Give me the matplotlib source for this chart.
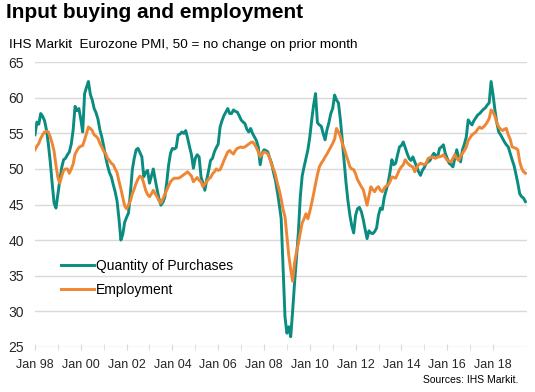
'''Input buying and employment: Eurozone PMI sub-indices, Jan 98 - mid 19'''
import numpy as np
from matplotlib import pyplot as plt

# monthly readings, Jan 1998 onwards (one row per year)
purchases = [
    54.8, 56.6, 56.3, 57.8, 57.4, 56.8, 55.5, 53.5, 51.0, 48.0, 45.2, 44.5,  # 98
    46.5, 48.4, 50.2, 51.3, 51.5, 52.0, 52.4, 53.5, 55.5, 58.8, 58.2, 58.5,  # 99
    57.0, 55.2, 60.6, 61.5, 62.3, 60.5, 59.7, 58.5, 57.9, 57.0, 55.5, 54.5,  # 00
    53.2, 51.7, 50.5, 49.5, 48.9, 47.8, 46.8, 45.5, 43.0, 40.0, 40.8, 42.5,  # 01
    43.2, 43.8, 46.6, 49.9, 51.5, 52.7, 52.9, 52.3, 51.7, 48.9, 49.5, 49.8,  # 02
    48.0, 49.0, 50.0, 48.5, 47.1, 45.8, 44.9, 45.3, 46.0, 48.0, 50.5, 52.2,  # 03
    52.9, 52.8, 53.0, 54.8, 54.9, 55.2, 55.0, 55.4, 54.3, 53.1, 52.0, 50.1,  # 04
    51.5, 52.0, 51.7, 48.9, 48.0, 47.0, 48.5, 49.8, 51.2, 51.5, 52.4, 53.0,  # 05
    53.5, 55.9, 56.8, 57.5, 58.0, 58.5, 57.8, 57.8, 58.3, 58.1, 58.0, 57.5,  # 06
    56.9, 56.6, 56.4, 55.6, 55.2, 55.7, 55.0, 54.5, 54.0, 53.1, 50.6, 52.2,  # 07
    52.7, 52.6, 52.4, 51.5, 50.8, 49.5, 48.4, 46.8, 45.0, 43.0, 36.0, 29.2,  # 08
    26.9, 27.8, 26.4, 30.0, 33.9, 37.5, 41.0, 46.0, 49.0, 50.3, 51.5, 52.7,  # 09
    54.5, 56.9, 59.0, 60.6, 56.5, 56.2, 56.0, 55.0, 54.1, 55.5, 56.5, 57.8,  # 10
    58.5, 60.4, 59.7, 59.3, 57.0, 54.1, 51.0, 48.0, 45.5, 43.5, 42.0, 41.0,  # 11
    43.5, 44.4, 44.6, 44.0, 42.9, 41.5, 40.2, 41.3, 41.0, 40.9, 41.2, 41.7,  # 12
    43.5, 44.5, 44.3, 46.0, 47.0, 48.0, 49.5, 51.3, 50.6, 50.8, 52.0, 53.1,  # 13
    53.3, 53.8, 53.0, 52.2, 51.5, 51.2, 51.7, 51.0, 50.3, 49.6, 49.1, 49.8,  # 14
    50.2, 50.8, 51.0, 51.2, 51.8, 52.2, 51.9, 51.7, 52.9, 53.1, 53.4, 52.2,  # 15
    51.5, 50.8, 50.6, 50.3, 51.5, 52.7, 51.6, 51.0, 52.7, 53.5, 54.5, 56.9,  # 16
    56.5, 56.2, 56.8, 57.2, 57.6, 57.8, 58.1, 58.4, 58.6, 59.0, 59.3, 62.3,  # 17
    60.5, 58.3, 56.5, 55.2, 54.8, 54.3, 53.8, 53.4, 53.1, 52.2, 51.3, 50.5,  # 18
    49.3, 48.0, 46.5, 46.1, 45.9, 45.4,                                      # 19
]
employment = [
    52.7, 53.2, 53.6, 54.3, 54.8, 55.2, 55.3, 55.2, 54.5, 53.6, 52.5, 50.5,  # 98
    48.8, 48.0, 49.0, 49.8, 50.0, 50.0, 49.4, 50.0, 50.7, 52.1, 52.6, 53.0,  # 99
    53.2, 53.3, 54.1, 55.0, 55.9, 55.7, 55.4, 54.8, 54.6, 54.3, 53.6, 53.1,  # 00
    52.5, 52.2, 51.5, 51.2, 50.8, 50.6, 50.0, 49.5, 48.3, 47.2, 46.0, 44.8,  # 01
    44.4, 45.0, 45.5, 46.5, 47.2, 48.0, 48.6, 49.0, 48.8, 48.0, 47.0, 46.4,  # 02
    46.1, 46.5, 47.0, 46.5, 46.1, 45.5, 45.2, 45.8, 46.4, 47.0, 47.6, 48.2,  # 03
    48.5, 48.7, 48.7, 48.7, 48.8, 49.0, 49.2, 49.4, 49.6, 49.3, 49.0, 48.2,  # 04
    48.5, 48.8, 48.4, 48.2, 47.5, 47.9, 48.2, 48.6, 48.8, 49.3, 49.6, 50.0,  # 05
    49.8, 49.9, 50.5, 51.2, 51.8, 52.4, 52.6, 52.3, 52.1, 52.6, 52.9, 53.0,  # 06
    53.1, 53.0, 53.1, 53.3, 53.5, 53.7, 53.8, 53.5, 53.0, 52.4, 51.7, 52.1,  # 07
    52.4, 52.3, 52.1, 51.5, 50.6, 50.0, 49.2, 48.0, 47.0, 45.8, 44.3, 43.3,  # 08
    40.5, 37.8, 35.8, 34.2, 36.8, 38.3, 39.5, 41.0, 42.4, 43.0, 43.7, 43.0,  # 09
    44.0, 45.2, 46.5, 47.9, 49.2, 50.3, 50.8, 51.2, 51.7, 52.1, 52.6, 53.1,  # 10
    53.6, 54.2, 55.7, 55.2, 54.6, 53.6, 52.9, 52.0, 51.2, 50.3, 50.0, 49.9,  # 11
    49.3, 48.5, 48.0, 47.5, 47.1, 46.0, 44.9, 46.2, 47.5, 47.1, 46.8, 47.3,  # 12
    47.5, 47.0, 46.8, 47.3, 47.6, 47.7, 48.2, 48.9, 48.8, 48.7, 49.3, 49.9,  # 13
    50.3, 50.6, 51.3, 50.9, 50.6, 50.4, 50.3, 49.6, 50.2, 50.6, 50.8, 50.7,  # 14
    50.6, 50.8, 51.5, 51.6, 51.7, 51.6, 51.5, 51.7, 51.7, 51.8, 52.0, 51.6,  # 15
    51.2, 51.1, 51.0, 51.5, 52.0, 51.5, 51.2, 51.8, 52.2, 52.6, 53.1, 54.0,  # 16
    54.4, 54.8, 55.0, 55.2, 55.6, 55.9, 55.7, 55.9, 56.2, 56.6, 57.1, 58.3,  # 17
    58.0, 57.4, 56.5, 55.9, 55.6, 55.4, 55.6, 55.7, 54.8, 54.2, 53.1, 53.0,  # 18
    52.9, 52.7, 51.0, 50.1, 49.6, 49.4,                                      # 19
]
tick_labels = ['Jan 98', 'Jan 00', 'Jan 02', 'Jan 04', 'Jan 06', 'Jan 08',
               'Jan 10', 'Jan 12', 'Jan 14', 'Jan 16', 'Jan 18']
series_names = ['Quantity of Purchases', 'Employment']

TEAL = '#0b8c80'
ORANGE = '#ef8633'
GRID = '#d9d9d9'

plt.rcParams['font.family'] = ['Liberation Sans', 'DejaVu Sans']

fig = plt.figure(figsize=(5.35, 3.92), dpi=100)
# pylint: disable-next=invalid-name
ax = fig.add_axes([0.0654, 0.1156, 0.9196, 0.7254])

months = np.arange(len(purchases))
ax.plot(months, purchases, color=TEAL, lw=2.1, label=series_names[0],
        solid_joinstyle='round', zorder=3)
ax.plot(months, employment, color=ORANGE, lw=2.1, label=series_names[1],
        solid_joinstyle='round', zorder=4)

ax.set_ylim(25, 65)
ax.set_xlim(0, 257.8)
ax.set_yticks(np.arange(25, 66, 5))
ax.set_xticks(np.arange(0, 241, 24))
ax.set_xticklabels(tick_labels)
ax.set_xticks(np.arange(12, 241, 24), minor=True)

ax.grid(axis='y', color=GRID, lw=1.0, zorder=0)
for side in ['top', 'right', 'left', 'bottom']:
    ax.spines[side].set_visible(False)
ax.tick_params(axis='y', length=0, pad=8, labelsize=10, labelcolor='#262626')
ax.tick_params(axis='x', which='both', direction='inout', length=4,
               color=GRID, pad=7, labelsize=9, labelcolor='#262626')

ax.legend(loc='center left', bbox_to_anchor=(0.052, 0.242), frameon=False,
          fontsize=10, handlelength=2.4, handletextpad=0.15,
          labelspacing=0.75, borderpad=0, borderaxespad=0)

fig.text(0.012, 0.953, 'Input buying and employment', fontsize=15,
         fontweight='bold', va='baseline', ha='left')
fig.text(0.016, 0.877, 'IHS Markit  Eurozone PMI, 50 = no change on prior month',
         fontsize=9.7, va='baseline', ha='left')
fig.text(0.969, 0.024, 'Sources: IHS Markit.', fontsize=7.5,
         va='baseline', ha='right')

fig.savefig('out.png', dpi=100)
